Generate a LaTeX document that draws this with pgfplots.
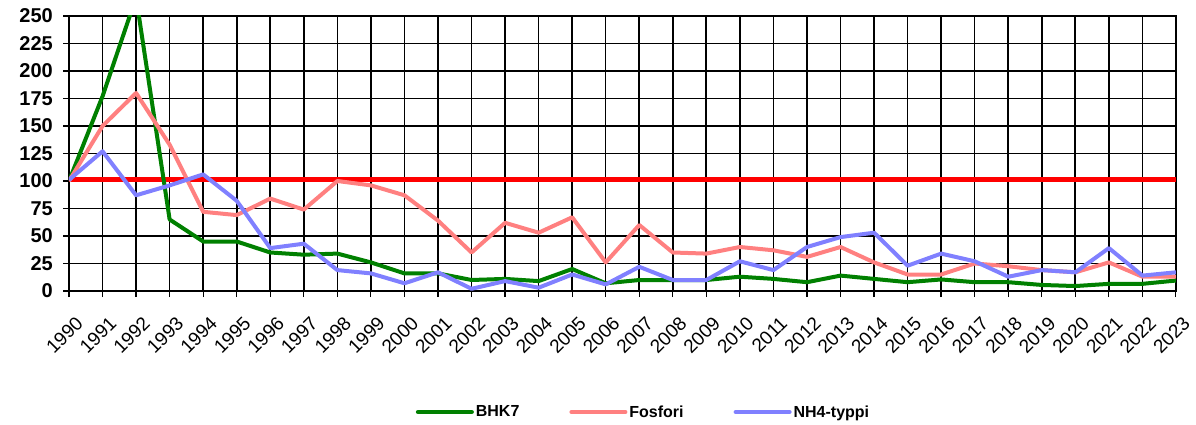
\documentclass[border=0pt]{standalone}
\usepackage{fontspec}
\setmainfont{Liberation Sans}
\usepackage{pgfplots}
\pgfplotsset{compat=1.18}
\definecolor{cgreen}{RGB}{0,128,0}
\definecolor{cpink}{RGB}{255,128,128}
\definecolor{cblue}{RGB}{128,128,255}
\definecolor{cred}{RGB}{255,0,0}
\begin{document}
\begin{tikzpicture}
\begin{axis}[
 at={(0pt,0pt)}, anchor=south west,
 scale only axis, width=1107pt, height=275pt,
 xmin=1990, xmax=2023, ymin=0, ymax=250,
 xtick={1990,...,2023}, ytick={0,25,...,250},
 grid=major, major grid style={black, line width=1.6pt},
 axis line style={black, line width=1.2pt},
 tick style={black, line width=1.2pt},
 tick align=outside, major tick length=6pt,
 xtick pos=left, ytick pos=left,
 /pgf/number format/assume math mode=true,
 x tick label style={font=\fontsize{19}{22}\selectfont, yshift=-14pt, rotate=45, anchor=east, inner sep=0pt, yshift=-14pt, xshift=1pt, /pgf/number format/1000 sep={}},
 y tick label style={font=\fontsize{20}{23}\selectfont\bfseries, inner sep=0pt, xshift=-10pt},
 legend style={at={(0.519,-0.44)}, anchor=center, draw=none, fill=none,
   font=\fontsize{16}{19}\selectfont\bfseries, legend columns=3,
   /tikz/every even column/.append style={column sep=48pt}},
 legend image code/.code={\draw[#1, line cap=round] (0pt,0pt) -- (54pt,0pt);},
 every axis plot/.append style={line join=round},
]
\addplot[cred, line width=5pt, forget plot] coordinates {(1990,101) (2023,101)};
\addplot[cgreen, line width=4pt] coordinates {
(1990,100) (1991,177) (1992,267) (1993,65) (1994,45) (1995,45) (1996,35) (1997,33) (1998,34) (1999,26)
(2000,16) (2001,16) (2002,10) (2003,11) (2004,9) (2005,20) (2006,7) (2007,10) (2008,10) (2009,10)
(2010,13) (2011,11) (2012,8) (2013,14) (2014,11) (2015,8) (2016,10.5) (2017,8) (2018,8) (2019,5.5)
(2020,4.5) (2021,6.5) (2022,6.5) (2023,9.5)};
\addlegendentry{BHK7}
\addplot[cpink, line width=4pt] coordinates {
(1990,100) (1991,150) (1992,180) (1993,133) (1994,72) (1995,69) (1996,84) (1997,74) (1998,100) (1999,96)
(2000,87) (2001,64) (2002,35) (2003,62) (2004,53) (2005,67) (2006,26) (2007,60) (2008,35) (2009,34)
(2010,40) (2011,37) (2012,31) (2013,40) (2014,26) (2015,15) (2016,15) (2017,25) (2018,22.5) (2019,19)
(2020,17) (2021,26) (2022,13) (2023,13)};
\addlegendentry{Fosfori}
\addplot[cblue, line width=4pt] coordinates {
(1990,101) (1991,127) (1992,87) (1993,96) (1994,106) (1995,82) (1996,39) (1997,43) (1998,19) (1999,16)
(2000,7) (2001,17) (2002,2) (2003,9) (2004,3) (2005,15) (2006,6) (2007,22) (2008,10) (2009,10)
(2010,27) (2011,19) (2012,40) (2013,49) (2014,53) (2015,23) (2016,34) (2017,27) (2018,13) (2019,19)
(2020,17) (2021,39) (2022,14) (2023,17)};
\addlegendentry{NH4-typpi}
\end{axis}
\pgfresetboundingbox
\path (-69pt,-134pt) rectangle (1127pt,291pt);
\end{tikzpicture}
\end{document}
